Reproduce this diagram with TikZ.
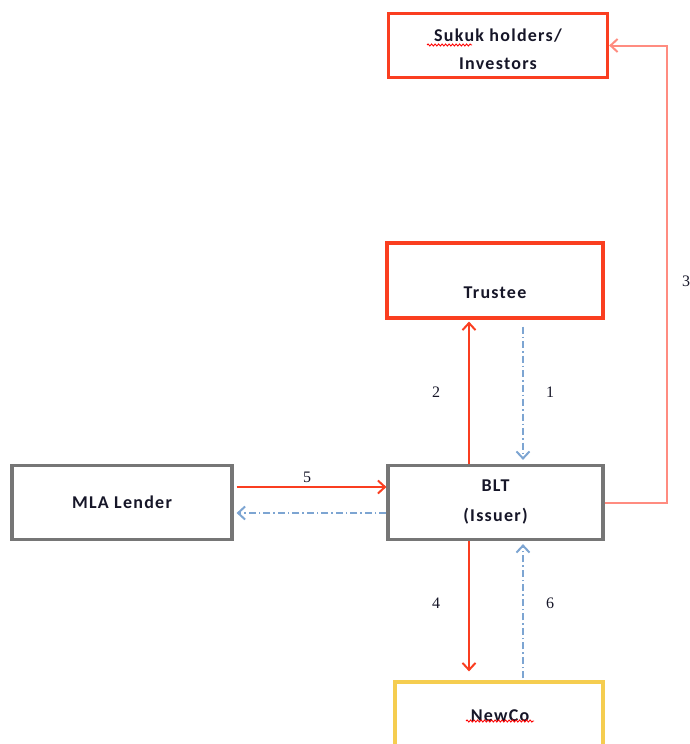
\documentclass[tikz,border=0pt]{standalone}
\usepackage{fontspec}
\setmainfont{Carlito}
\newfontfamily\boxfont[LetterSpace=7]{Carlito}
\newfontfamily\numfont{Liberation Serif}
\usetikzlibrary{arrows.meta,decorations.pathmorphing}

\definecolor{boxred}{RGB}{250,62,32}
\definecolor{boxgray}{RGB}{118,118,118}
\definecolor{boxyellow}{RGB}{245,205,80}
\definecolor{flowblue}{RGB}{125,165,210}
\definecolor{flowsalmon}{RGB}{255,140,128}
\definecolor{inkdark}{RGB}{22,22,40}

\tikzset{
  x=1pt, y=-1pt,
  entity/.style={draw, line width=3.2pt, rectangle, inner sep=0pt},
  entitytext/.style={font=\boxfont\bfseries\fontsize{18}{28}\selectfont, text=inkdark, align=center},
  steplabel/.style={font=\numfont\fontsize{16}{18}\selectfont, text=inkdark},
  tip/.style={-{Straight Barb[length=7pt,width=13pt,line width=2pt]}},
  cashflow/.style={tip, draw=boxred, line width=2pt},
  docflow/.style={tip, draw=flowblue, line width=1.8pt, dash pattern=on 7pt off 3pt on 1.5pt off 3pt},
  payout/.style={tip, draw=flowsalmon, line width=2pt},
  spellmark/.style={draw=red, line width=0.9pt, decorate,
    decoration={snake, amplitude=1pt, segment length=3.5pt}}
}

\begin{document}
\begin{tikzpicture}
\useasboundingbox (0,0) rectangle (689,744);

% parties
\node[entity, draw=boxred, minimum width=219pt, minimum height=64pt] (sukuk) at (498,45.5) {};
\node[entitytext] (sukuktext) at (498,49) {Sukuk holders/\\Investors};
\node[entity, draw=boxred, minimum width=216pt, minimum height=75pt] (trustee) at (495,280.5) {};
\node[entitytext] (trusteetext) at (495,293) {Trustee};
\node[entity, draw=boxgray, minimum width=220pt, minimum height=74pt] (mla) at (122,502.5) {};
\node[entitytext] (mlatext) at (mla.center) {MLA Lender};
\node[entity, draw=boxgray, minimum width=215pt, minimum height=74pt] (blt) at (495.5,502.5) {};
\node[entitytext, font=\boxfont\bfseries\fontsize{18}{30}\selectfont] (blttext) at (blt.center) {BLT\\(Issuer)};
\node[entity, draw=boxyellow, minimum width=208pt, minimum height=78pt] (newco) at (499,721) {};
\node[entitytext] (newcotext) at (500,716) {NewCo};

% spelling marks under the unknown words
\draw[spellmark] (427,45) -- (472,45);
\draw[spellmark] (466,721) -- (534,721);

% flows between BLT and the trustee
\draw[cashflow, shorten >=2pt] ([xshift=-26.5pt]blt.north) -- ([xshift=-26.5pt]blt.north |- trustee.south);
\draw[docflow, shorten <=7pt, shorten >=4pt] ([xshift=27.5pt]blt.north |- trustee.south) -- ([xshift=27.5pt]blt.north);
\node[steplabel] (l2) at (436,392) {2};
\node[steplabel] (l1) at (550,392) {1};

% payments to the sukuk holders
\coordinate (riser) at (667,0);
\draw[payout] (blt.east) -- (blt.east -| riser) -- (sukuk.east -| riser) -- (sukuk.east);
\node[steplabel] (l3) at (686,281) {3};

% flows between the MLA lender and BLT
\draw[cashflow, shorten <=3pt] ([yshift=15.5pt]mla.east) -- ([yshift=15.5pt]mla.east -| blt.west);
\draw[docflow, shorten >=3pt] ([yshift=-10.5pt]mla.east -| blt.west) -- ([yshift=-10.5pt]mla.east);
\node[steplabel] (l5) at (307,477) {5};

% flows between BLT and NewCo
\draw[cashflow, shorten >=9pt] ([xshift=-26.5pt]blt.south) -- ([xshift=-26.5pt]blt.south |- newco.north);
\draw[docflow, shorten <=2pt, shorten >=3pt] ([xshift=27.5pt]blt.south |- newco.north) -- ([xshift=27.5pt]blt.south);
\node[steplabel] (l4) at (436,603) {4};
\node[steplabel] (l6) at (550,603) {6};
\end{tikzpicture}
\end{document}
